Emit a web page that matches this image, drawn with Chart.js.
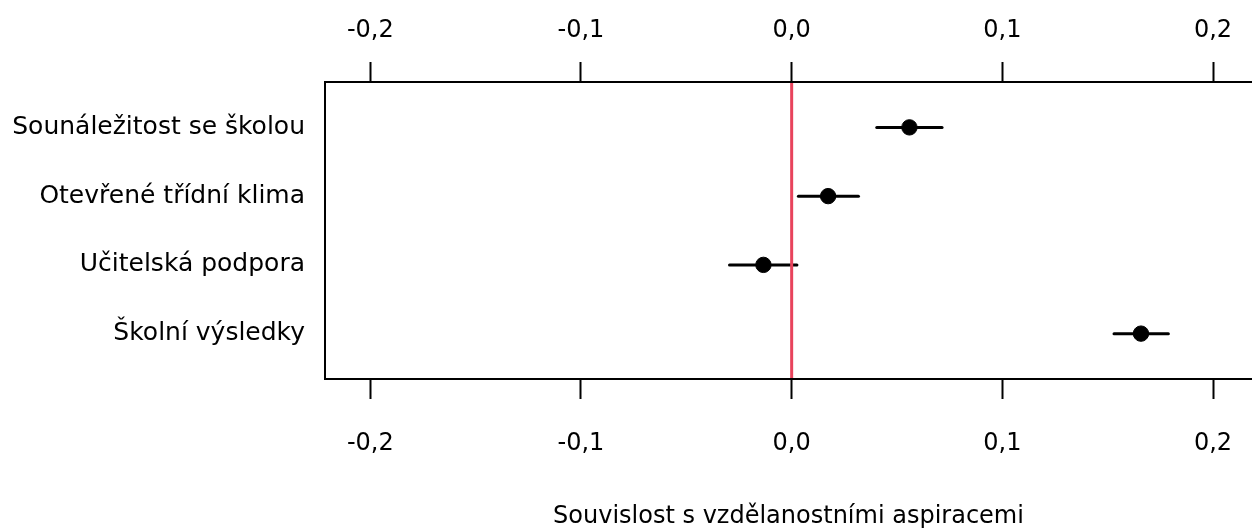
<!DOCTYPE html>
<html>
<head>
<meta charset="utf-8">
<script src="https://cdn.jsdelivr.net/npm/chart.js@4/dist/chart.umd.min.js"></script>
<style>
  html, body { margin: 0; padding: 0; background: #fff; overflow: hidden; }
  #wrap { width: 1252px; height: 529px; }
  canvas { display: block; }
</style>
</head>
<body>
<div id="wrap"><canvas id="forest"></canvas></div>
<script>
// categories, top to bottom
const categories = ['Sounáležitost se školou', 'Otevřené třídní klima', 'Učitelská podpora', 'Školní výsledky'];
// estimates and confidence limits
const estimates = [0.0559, 0.0173, -0.0134, 0.1658];
const lower = [0.0404, 0.0032, -0.0295, 0.1530];
const upper = [0.0714, 0.0317, 0.0025, 0.1788];
const xTicks = [-0.2, -0.1, 0.0, 0.1, 0.2];
const axisTitle = 'Souvislost s vzdělanostními aspiracemi';

const textFont = "'DejaVu Sans', sans-serif";

const fmt = v => v.toFixed(1).replace('.', ',').replace('-0,0', '0,0');

const points = estimates.map((v, i) => ({ x: v, y: i + 1 }));

// CI bars under the points, red reference line over them
const forestPlugin = {
    id: 'forest',
    beforeDatasetsDraw(chart) {
        const { ctx, scales: { x, y } } = chart;
        ctx.save();
        ctx.strokeStyle = '#000';
        ctx.lineWidth = 3;
        ctx.lineCap = 'round';
        lower.forEach((lo, i) => {
            const py = y.getPixelForValue(i + 1);
            ctx.beginPath();
            ctx.moveTo(x.getPixelForValue(lo), py);
            ctx.lineTo(x.getPixelForValue(upper[i]), py);
            ctx.stroke();
        });
        ctx.restore();
    },
    afterDatasetsDraw(chart) {
        const { ctx, chartArea, scales: { x } } = chart;
        const px = x.getPixelForValue(0);
        ctx.save();
        ctx.strokeStyle = '#e8435c';
        ctx.lineWidth = 3;
        ctx.beginPath();
        ctx.moveTo(px, chartArea.top + 1);
        ctx.lineTo(px, chartArea.bottom - 1);
        ctx.stroke();
        ctx.restore();
    }
};

// fixed axis size, no side padding so the plot runs to the right edge
const fixHeight = h => scale => {
    scale.height = h;
    scale.paddingLeft = 0;
    scale.paddingRight = 0;
};

const xCommon = {
    type: 'linear',
    min: -0.2215,
    max: 0.2185,
    afterBuildTicks: scale => { scale.ticks = xTicks.map(v => ({ value: v })); },
    grid: {
        drawOnChartArea: false,
        drawTicks: true,
        tickLength: 20,
        tickWidth: 2,
        tickColor: '#000'
    },
    border: { display: true, color: '#000', width: 2 },
    ticks: {
        color: '#000',
        font: { family: textFont, size: 24 },
        callback: v => fmt(v)
    }
};

new Chart(document.getElementById('forest'), {
    type: 'scatter',
    data: {
        datasets: [{
            data: points,
            backgroundColor: '#000',
            borderColor: '#000',
            pointRadius: 7.7,
            pointHoverRadius: 7.7
        }]
    },
    options: {
        responsive: true,
        maintainAspectRatio: false,
        animation: false,
        layout: { padding: 0, autoPadding: false },
        plugins: {
            legend: { display: false },
            tooltip: { enabled: false }
        },
        scales: {
            x: {
                ...xCommon,
                position: 'bottom',
                ticks: { ...xCommon.ticks, padding: 30 },
                title: {
                    display: true,
                    text: axisTitle,
                    color: '#000',
                    font: { family: textFont, size: 24 },
                    padding: { top: 0, bottom: -2 }
                },
                afterFit: fixHeight(150)
            },
            x2: {
                ...xCommon,
                position: 'top',
                ticks: { ...xCommon.ticks, padding: 17 },
                afterFit: fixHeight(82)
            },
            y: {
                type: 'linear',
                reverse: true,
                min: 0.34,
                max: 4.66,
                afterBuildTicks: scale => { scale.ticks = categories.map((c, i) => ({ value: i + 1 })); },
                grid: { drawOnChartArea: false, drawTicks: false },
                border: { display: true, color: '#000', width: 2 },
                ticks: {
                    color: '#000',
                    padding: 20,
                    font: { family: textFont, size: 25 },
                    callback: v => categories[v - 1]
                },
                afterFit: scale => {
                    scale.width = 325;
                    scale.paddingTop = 0;
                    scale.paddingBottom = 0;
                }
            }
        }
    },
    plugins: [forestPlugin]
});
</script>
</body>
</html>
